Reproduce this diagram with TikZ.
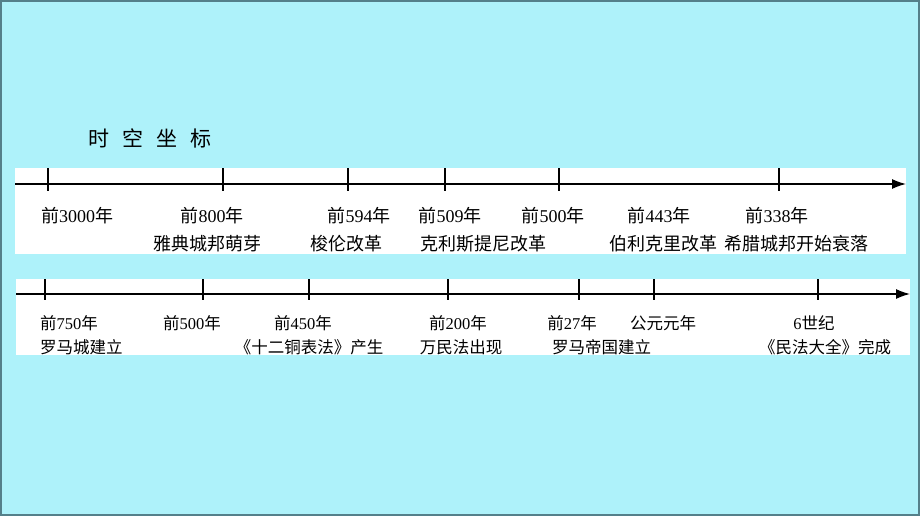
\documentclass[tikz,border=0pt]{standalone}
\usepackage{fontspec}
\setmainfont{Liberation Serif}
\newfontfamily\cjk{Noto Sans CJK SC}
\usepackage{tikz}
\usetikzlibrary{arrows.meta,positioning}
\definecolor{sky}{RGB}{174,242,250}
\definecolor{frame}{RGB}{84,128,138}
\newcommand{\qian}[1]{{\cjk 前}#1{\cjk 年}}
\tikzstyle{band} = [fill=white, draw=none]
\tikzstyle{axis} = [line width=1.3pt, -{Latex[length=14pt,width=10pt]}]
\tikzstyle{tick} = [line width=1.3pt]
\tikzstyle{year} = [inner sep=0pt, font=\fontsize{18}{20}\selectfont]
\tikzstyle{event} = [inner sep=0pt, font=\fontsize{18}{20}\selectfont\cjk]
\tikzstyle{yearb} = [inner sep=0pt, font=\fontsize{16.5}{19}\selectfont]
\tikzstyle{eventb} = [inner sep=0pt, font=\fontsize{16.5}{19}\selectfont\cjk]

\begin{document}
\begin{tikzpicture}[x=1pt, y=-1pt]
    % background and frame
    \fill[sky] (0,0) rectangle (920,516);
    \draw[frame, line width=2pt] (1,1) rectangle (919,515);
    \useasboundingbox (0,0) rectangle (920,516);

    % title
    \node[inner sep=0pt, font=\fontsize{21}{24}\selectfont\cjk] (title) at (150,138)
        {时\hspace{13pt}空\hspace{13pt}坐\hspace{13pt}标};

    % first strip
    \fill[band] (15,168) rectangle (906,254);
    \coordinate (a1s) at (15,184);
    \coordinate (a1e) at (906,184);
    \draw[axis] (a1s) -- (a1e);
    \foreach \x in {48,223,348,445,559,779}
        \draw[tick] (\x,168) -- (\x,191);

    \node[year] (y3000) at (77,216) {\qian{3000}};
    \node[year] (y800) at (212,216) {\qian{800}};
    \node[event] (e800) at (207,244) {雅典城邦萌芽};
    \node[year] (y594) at (359,216) {\qian{594}};
    \node[event] (e594) at (346,244) {梭伦改革};
    \node[year] (y509) at (450,216) {\qian{509}};
    \node[event] (e509) at (483,244) {克利斯提尼改革};
    \node[year] (y500a) at (553,216) {\qian{500}};
    \node[year] (y443) at (659,216) {\qian{443}};
    \node[event] (e443) at (663,244) {伯利克里改革};
    \node[year] (y338) at (777,216) {\qian{338}};
    \node[event] (e338) at (796,244) {希腊城邦开始衰落};

    % second strip
    \fill[band] (16,279) rectangle (910,355);
    \coordinate (a2s) at (16,294);
    \coordinate (a2e) at (910,294);
    \draw[axis] (a2s) -- (a2e);
    \foreach \x in {45,203,309,448,579,654,818}
        \draw[tick] (\x,279) -- (\x,300);

    \node[yearb, anchor=west] (y750) at (40,323) {\qian{750}};
    \node[eventb, anchor=west] (e750) at (40,347) {罗马城建立};
    \node[yearb] (y500b) at (192,323) {\qian{500}};
    \node[yearb] (y450) at (303,323) {\qian{450}};
    \node[eventb] (e450) at (309,347) {《十二铜表法》产生};
    \node[yearb] (y200) at (458,323) {\qian{200}};
    \node[eventb] (e200) at (461,347) {万民法出现};
    \node[yearb] (y27) at (572,323) {\qian{27}};
    \node[eventb, anchor=west] (e27) at (552,347) {罗马帝国建立};
    \node[eventb] (y1) at (663,323) {公元元年};
    \node[yearb] (c6) at (814,323) {6{\cjk 世纪}};
    \node[eventb] (e6) at (825,347) {《民法大全》完成};
\end{tikzpicture}
\end{document}
